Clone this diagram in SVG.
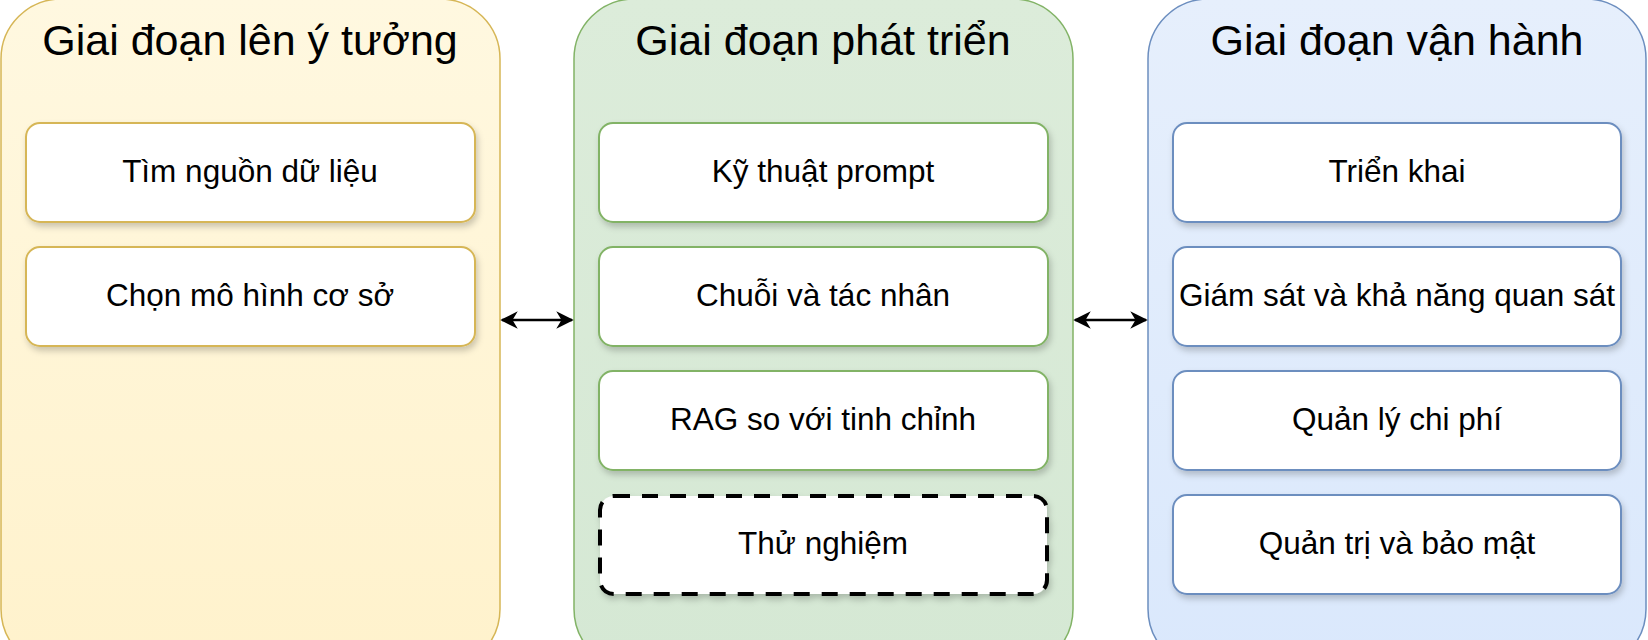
<svg xmlns="http://www.w3.org/2000/svg" width="1648" height="640" viewBox="0 0 1648 640">
<style>
.title{font-family:"Liberation Sans",Arial,sans-serif;font-size:43px;fill:#000;text-anchor:middle}
.lbl{font-family:"Liberation Sans",Arial,sans-serif;font-size:31.5px;fill:#000;text-anchor:middle}
.box{fill:#fff;stroke-width:2;filter:url(#sh)}
.y{stroke:#d6b656}.g{stroke:#82b366}.b{stroke:#6c8ebf}
.dash{fill:#fff;stroke:#000;stroke-width:4;stroke-dasharray:16 12;filter:url(#sh)}
.conn{stroke:#000;stroke-width:2.5;fill:none;marker-start:url(#ah);marker-end:url(#ah)}
</style>
<defs>
<filter id="sh" x="-10%" y="-20%" width="120%" height="150%"><feDropShadow dx="2" dy="4" stdDeviation="3" flood-color="#000" flood-opacity="0.2"/></filter>
<marker id="ah" viewBox="0 0 10 10" refX="9" refY="5" markerWidth="7" markerHeight="7" orient="auto-start-reverse"><path d="M0,0 L10,5 L0,10 L3,5 z" fill="#000"/></marker>
<linearGradient id="gy" x1="0" y1="0" x2="0" y2="1"><stop offset="0" stop-color="#fff8e0"/><stop offset="1" stop-color="#fff2cc"/></linearGradient>
<linearGradient id="gg" x1="0" y1="0" x2="0" y2="1"><stop offset="0" stop-color="#dcecda"/><stop offset="1" stop-color="#d5e8d4"/></linearGradient>
<linearGradient id="gb" x1="0" y1="0" x2="0" y2="1"><stop offset="0" stop-color="#e6effc"/><stop offset="1" stop-color="#dae8fc"/></linearGradient>
</defs>
<rect width="1648" height="640" fill="#fff"/>
<g id="ideation">
<rect x="1" y="-1" width="499" height="670" rx="60" fill="url(#gy)" stroke="#d6b656" stroke-width="1.5"/>
<text class="title" x="250" y="55">Giai đoạn lên ý tưởng</text>
</g>
<g id="development">
<rect x="574" y="-1" width="499" height="670" rx="60" fill="url(#gg)" stroke="#82b366" stroke-width="1.5"/>
<text class="title" x="823" y="55">Giai đoạn phát triển</text>
</g>
<g id="operation">
<rect x="1148" y="-1" width="498" height="670" rx="60" fill="url(#gb)" stroke="#6c8ebf" stroke-width="1.5"/>
<text class="title" x="1397" y="55">Giai đoạn vận hành</text>
</g>
<g id="i1"><rect class="box y" x="26" y="123" width="449" height="99" rx="14"/><text class="lbl" x="250" y="182">Tìm nguồn dữ liệu</text></g>
<g id="i2"><rect class="box y" x="26" y="247" width="449" height="99" rx="14"/><text class="lbl" x="250" y="306">Chọn mô hình cơ sở</text></g>
<g id="d1"><rect class="box g" x="599" y="123" width="449" height="99" rx="14"/><text class="lbl" x="823" y="182">Kỹ thuật prompt</text></g>
<g id="d2"><rect class="box g" x="599" y="247" width="449" height="99" rx="14"/><text class="lbl" x="823" y="306">Chuỗi và tác nhân</text></g>
<g id="d3"><rect class="box g" x="599" y="371" width="449" height="99" rx="14"/><text class="lbl" x="823" y="430">RAG so với tinh chỉnh</text></g>
<g id="d4"><rect class="dash" x="600" y="496" width="447" height="98" rx="14"/><text class="lbl" x="823" y="554">Thử nghiệm</text></g>
<g id="o1"><rect class="box b" x="1173" y="123" width="448" height="99" rx="14"/><text class="lbl" x="1397" y="182">Triển khai</text></g>
<g id="o2"><rect class="box b" x="1173" y="247" width="448" height="99" rx="14"/><text class="lbl" x="1397" y="306">Giám sát và khả năng quan sát</text></g>
<g id="o3"><rect class="box b" x="1173" y="371" width="448" height="99" rx="14"/><text class="lbl" x="1397" y="430">Quản lý chi phí</text></g>
<g id="o4"><rect class="box b" x="1173" y="495" width="448" height="99" rx="14"/><text class="lbl" x="1397" y="554">Quản trị và bảo mật</text></g>
<g id="connectors">
<line class="conn" x1="502" y1="320" x2="572" y2="320"/>
<line class="conn" x1="1075" y1="320" x2="1146" y2="320"/>
</g>
</svg>
